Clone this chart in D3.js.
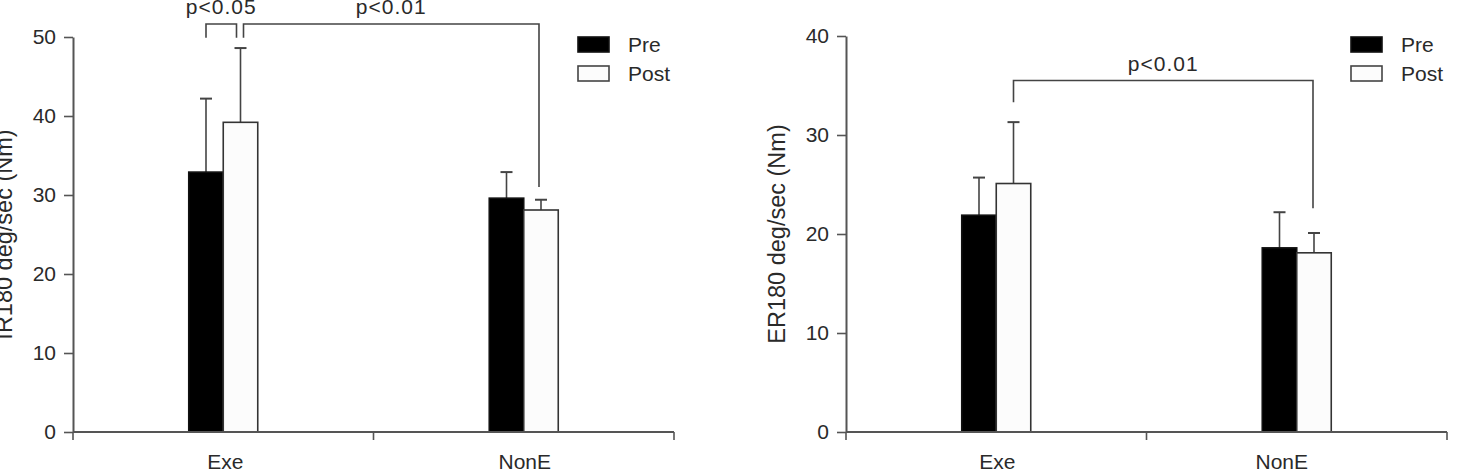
<!DOCTYPE html>
<html>
<head>
<meta charset="utf-8">
<script src="https://cdn.jsdelivr.net/npm/d3@7"></script>
<style>
  html, body { margin: 0; padding: 0; background: #fff; }
  svg { display: block; }
  text { font-family: "Liberation Sans", Arial, sans-serif; fill: #2a2a2a; }
</style>
</head>
<body>
<svg id="chart" width="1458" height="474"></svg>
<script>
// ---- data ----
const categories = ["Exe", "NonE"];
const series = ["Pre", "Post"];

// IR180 (left panel)
const irPre = [32.9, 29.6];
const irPost = [39.2, 28.1];
const irPreSD = [9.3, 3.3];
const irPostSD = [9.4, 1.3];
const irTicks = [0, 10, 20, 30, 40, 50];
const irTitle = "IR180 deg/sec (Nm)";

// ER180 (right panel)
const erPre = [21.9, 18.6];
const erPost = [25.1, 18.1];
const erPreSD = [3.8, 3.6];
const erPostSD = [6.2, 2.0];
const erTicks = [0, 10, 20, 30, 40];
const erTitle = "ER180 deg/sec (Nm)";

// significance brackets (values in data units)
const irBrackets = [
  { label: "p<0.05", from: ["Exe", "Pre"], to: ["Exe", "Post"], top: 51.65, leftEnd: 49.9, rightEnd: 49.9 },
  { label: "p<0.01", from: ["Exe", "Post"], to: ["NonE", "Post"], top: 51.65, leftEnd: 49.9, rightEnd: 31.0 }
];
const erBrackets = [
  { label: "p<0.01", from: ["Exe", "Post"], to: ["NonE", "Post"], top: 35.5, leftEnd: 33.3, rightEnd: 22.6 }
];

// ---- drawing ----
const svg = d3.select("#chart");
const AXIS = "#555";

function panel(cfg) {
  const g = svg.append("g");
  const y = d3.scaleLinear().domain([0, cfg.ticks[cfg.ticks.length - 1]]).range([432, cfg.yTop]);
  const x0 = d3.scaleBand().domain(categories).range([cfg.left, cfg.left + 601]).padding(0);
  const bw = x0.bandwidth();
  const x1 = d3.scaleBand().domain(series).range([bw / 2 - 34.5, bw / 2 + 34.5]).padding(0);

  const rows = categories.map((c, i) => ({
    cat: c,
    vals: [
      { s: "Pre", v: cfg.pre[i], sd: cfg.preSD[i] },
      { s: "Post", v: cfg.post[i], sd: cfg.postSD[i] }
    ]
  }));

  // error bars (upper only)
  const eb = g.append("g");
  rows.forEach(r => r.vals.forEach(d => {
    const cx = x0(r.cat) + x1(d.s) + x1.bandwidth() / 2;
    eb.append("line").attr("x1", cx).attr("x2", cx)
      .attr("y1", y(d.v)).attr("y2", y(d.v + d.sd))
      .attr("stroke", "#444").attr("stroke-width", 1.6);
    eb.append("line").attr("x1", cx - 6).attr("x2", cx + 6)
      .attr("y1", y(d.v + d.sd)).attr("y2", y(d.v + d.sd))
      .attr("stroke", "#444").attr("stroke-width", 2);
  }));

  // bars
  const grp = g.selectAll("g.grp").data(rows).join("g")
    .attr("transform", d => `translate(${x0(d.cat)},0)`);
  grp.selectAll("rect").data(d => d.vals).join("rect")
    .attr("x", d => x1(d.s))
    .attr("y", d => y(d.v))
    .attr("width", x1.bandwidth())
    .attr("height", d => y(0) - y(d.v))
    .attr("fill", d => d.s === "Pre" ? "#000" : "#fcfcfc")
    .attr("stroke", d => d.s === "Pre" ? "#111" : "#333")
    .attr("stroke-width", 1.6);

  // y axis
  const ya = g.append("g").attr("transform", `translate(${cfg.left},0)`)
    .call(d3.axisLeft(y).tickValues(cfg.ticks).tickSize(9).tickPadding(8).tickSizeOuter(0));
  ya.select(".domain").attr("stroke", AXIS).attr("stroke-width", 2);
  ya.selectAll(".tick line").attr("stroke", AXIS).attr("stroke-width", 1.6);
  ya.selectAll(".tick text").attr("font-size", 21).attr("fill", "#2a2a2a")
    .attr("font-family", "'Liberation Sans', Arial, sans-serif");

  // x axis: line + ticks at band boundaries
  const xa = g.append("g");
  xa.append("line").attr("x1", cfg.left).attr("x2", cfg.left + 601)
    .attr("y1", y(0)).attr("y2", y(0)).attr("stroke", AXIS).attr("stroke-width", 2);
  const bounds = [x0(categories[0])].concat(categories.map(c => x0(c) + bw));
  bounds.forEach(b => {
    xa.append("line").attr("x1", b).attr("x2", b).attr("y1", y(0)).attr("y2", y(0) + 8)
      .attr("stroke", AXIS).attr("stroke-width", 1.6);
  });
  categories.forEach((c, i) => {
    xa.append("text").attr("x", x0(c) + bw / 2 + (cfg.labelDx[i] || 0)).attr("y", 469)
      .attr("text-anchor", "middle").attr("font-size", 21).text(c);
  });

  // y title
  g.append("text")
    .attr("transform", `translate(${cfg.left - 61},${(y(0) + y.range()[1]) / 2}) rotate(-90)`)
    .attr("text-anchor", "middle").attr("font-size", 23.5).text(cfg.title);

  // brackets
  const cx = (pair) => x0(pair[0]) + x1(pair[1]) + x1.bandwidth() / 2;
  cfg.brackets.forEach((b, i) => {
    const xl = cx(b.from) + (cfg.bracketDx[i][0]);
    const xr = cx(b.to) + (cfg.bracketDx[i][1]);
    g.append("path")
      .attr("d", `M${xl},${y(b.leftEnd)}V${y(b.top)}H${xr}V${y(b.rightEnd)}`)
      .attr("fill", "none").attr("stroke", "#444").attr("stroke-width", 1.6);
    g.append("text").attr("x", (xl + xr) / 2).attr("y", y(b.top) - 10)
      .attr("text-anchor", "middle").attr("font-size", 21).attr("letter-spacing", 1).text(b.label);
  });

  // legend
  const lg = g.append("g");
  series.forEach((s, i) => {
    lg.append("rect").attr("x", cfg.left + 505).attr("y", 37 + i * 29)
      .attr("width", 31).attr("height", 15)
      .attr("fill", s === "Pre" ? "#000" : "#fcfcfc")
      .attr("stroke", s === "Pre" ? "#111" : "#444").attr("stroke-width", 1.6);
    lg.append("text").attr("x", cfg.left + 555).attr("y", 52 + i * 29)
      .attr("font-size", 21).text(s);
  });
}

panel({ left: 73, yTop: 37, ticks: irTicks, pre: irPre, post: irPost, preSD: irPreSD, postSD: irPostSD,
        title: irTitle, brackets: irBrackets, bracketDx: [[0, -4], [3, -2]], labelDx: [2, 1] });
panel({ left: 846, yTop: 36, ticks: erTicks, pre: erPre, post: erPost, preSD: erPreSD, postSD: erPostSD,
        title: erTitle, brackets: erBrackets, bracketDx: [[0, -1]], labelDx: [1, -15] });
</script>
</body>
</html>
